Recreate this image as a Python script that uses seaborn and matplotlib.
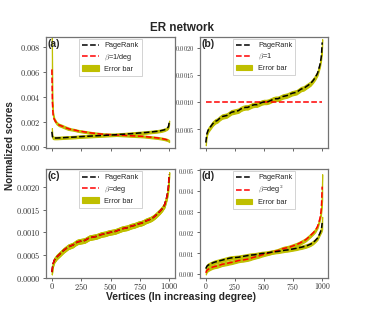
import numpy as np
import pandas as pd
import matplotlib
matplotlib.use("Agg")
import matplotlib.pyplot as plt
import seaborn as sns
from matplotlib.ticker import FuncFormatter, FixedLocator

# ---------------- data ----------------
vertices = [0, 5, 10, 20, 40, 60, 80, 100, 120, 140, 160, 180, 200, 220, 240, 260, 280, 300,
            320, 340, 360, 380, 400, 420, 440, 460, 480, 500, 520, 540, 560, 580, 600, 620,
            640, 660, 680, 700, 720, 740, 760, 780, 800, 820, 840, 860, 880, 900, 920, 940,
            960, 980, 990, 995, 1000]

# (a) PageRank and beta = 1/deg
pr_a = [0.00120, 0.00080, 0.00072, 0.00070, 0.00070, 0.00071, 0.00072, 0.00073, 0.00074, 0.00075,
        0.00076, 0.00077, 0.00078, 0.00080, 0.00081, 0.00082, 0.00083, 0.00084, 0.00085, 0.00086,
        0.00087, 0.00088, 0.00089, 0.00090, 0.00091, 0.00092, 0.00093, 0.00094, 0.00095, 0.00096,
        0.00098, 0.00099, 0.00100, 0.00101, 0.00103, 0.00104, 0.00105, 0.00107, 0.00108, 0.00110,
        0.00111, 0.00113, 0.00114, 0.00116, 0.00118, 0.00120, 0.00122, 0.00124, 0.00127, 0.00131,
        0.00136, 0.00145, 0.00155, 0.00165, 0.00195]
beta_a = [0.00620, 0.00350, 0.00260, 0.00220, 0.00190, 0.00175, 0.00168, 0.00160, 0.00152, 0.00145,
          0.00140, 0.00137, 0.00133, 0.00128, 0.00125, 0.00122, 0.00119, 0.00116, 0.00113, 0.00110,
          0.00108, 0.00106, 0.00104, 0.00102, 0.00100, 0.00099, 0.00098, 0.00097, 0.00096, 0.00095,
          0.00094, 0.00093, 0.00092, 0.00091, 0.00090, 0.00089, 0.00088, 0.00087, 0.00086, 0.00085,
          0.00084, 0.00083, 0.00081, 0.00079, 0.00077, 0.00075, 0.00073, 0.00071, 0.00068, 0.00065,
          0.00061, 0.00056, 0.00052, 0.00049, 0.00045]
err_pr_a = [0.00030, 0.00012, 0.00010, 0.00010, 0.00010, 0.00010, 0.00010, 0.00010, 0.00010, 0.00010,
            0.00010, 0.00010, 0.00010, 0.00010, 0.00010, 0.00010, 0.00010, 0.00010, 0.00010, 0.00010,
            0.00010, 0.00010, 0.00010, 0.00010, 0.00010, 0.00010, 0.00010, 0.00010, 0.00010, 0.00010,
            0.00010, 0.00010, 0.00010, 0.00010, 0.00010, 0.00010, 0.00010, 0.00010, 0.00010, 0.00010,
            0.00010, 0.00010, 0.00010, 0.00010, 0.00010, 0.00010, 0.00010, 0.00010, 0.00010, 0.00010,
            0.00010, 0.00010, 0.00012, 0.00012, 0.00015]
err_beta_a = [0.00260, 0.00040, 0.00020, 0.00012, 0.00010, 0.00010, 0.00010, 0.00010, 0.00010, 0.00010,
              0.00008, 0.00008, 0.00008, 0.00008, 0.00008, 0.00008, 0.00008, 0.00008, 0.00008, 0.00008,
              0.00008, 0.00008, 0.00008, 0.00008, 0.00008, 0.00008, 0.00008, 0.00008, 0.00008, 0.00008,
              0.00008, 0.00008, 0.00008, 0.00008, 0.00008, 0.00008, 0.00008, 0.00008, 0.00008, 0.00008,
              0.00008, 0.00008, 0.00008, 0.00008, 0.00008, 0.00008, 0.00008, 0.00008, 0.00008, 0.00008,
              0.00008, 0.00008, 0.00008, 0.00008, 0.00008]

# (b) PageRank and beta = 1
pr_b = [0.00025, 0.00035, 0.00042, 0.00048, 0.00054, 0.00060, 0.00064, 0.00066, 0.00070, 0.00073,
        0.00074, 0.00075, 0.00078, 0.00081, 0.00082, 0.00083, 0.00084, 0.00087, 0.00089, 0.00090,
        0.00090, 0.00092, 0.00094, 0.00095, 0.00095, 0.00097, 0.00099, 0.00100, 0.00100, 0.00101,
        0.00103, 0.00105, 0.00106, 0.00106, 0.00108, 0.00110, 0.00111, 0.00112, 0.00114, 0.00116,
        0.00117, 0.00118, 0.00121, 0.00124, 0.00125, 0.00128, 0.00131, 0.00134, 0.00139, 0.00145,
        0.00153, 0.00168, 0.00180, 0.00190, 0.00210]
beta_b = [0.00100] * 55
err_pr_b = [0.00005, 0.00004, 0.00004, 0.00004, 0.00004, 0.00004, 0.00004, 0.00004, 0.00004, 0.00004,
            0.00004, 0.00004, 0.00004, 0.00004, 0.00004, 0.00004, 0.00004, 0.00004, 0.00004, 0.00004,
            0.00004, 0.00004, 0.00004, 0.00004, 0.00004, 0.00004, 0.00004, 0.00004, 0.00004, 0.00004,
            0.00004, 0.00004, 0.00004, 0.00004, 0.00004, 0.00004, 0.00004, 0.00004, 0.00004, 0.00004,
            0.00004, 0.00004, 0.00004, 0.00004, 0.00004, 0.00004, 0.00004, 0.00004, 0.00004, 0.00004,
            0.00004, 0.00004, 0.00004, 0.00005, 0.00006]

# (c) PageRank and beta = deg (the two curves coincide)
pr_c = [0.00012, 0.00022, 0.00030, 0.00038, 0.00045, 0.00050, 0.00055, 0.00060, 0.00064, 0.00068,
        0.00070, 0.00072, 0.00076, 0.00079, 0.00080, 0.00081, 0.00082, 0.00085, 0.00088, 0.00089,
        0.00090, 0.00091, 0.00093, 0.00095, 0.00096, 0.00097, 0.00099, 0.00100, 0.00101, 0.00102,
        0.00104, 0.00106, 0.00108, 0.00109, 0.00110, 0.00112, 0.00114, 0.00115, 0.00117, 0.00119,
        0.00120, 0.00122, 0.00125, 0.00127, 0.00129, 0.00132, 0.00136, 0.00141, 0.00146, 0.00152,
        0.00160, 0.00178, 0.00192, 0.00205, 0.00228]
beta_c = list(pr_c)
err_c = [0.00005] * 55

# (d) PageRank and beta = deg^2
pr_d = [0.00025, 0.00032, 0.00037, 0.00042, 0.00048, 0.00053, 0.00057, 0.00060, 0.00063, 0.00066,
        0.00069, 0.00072, 0.00075, 0.00077, 0.00078, 0.00079, 0.00080, 0.00082, 0.00084, 0.00086,
        0.00088, 0.00090, 0.00091, 0.00092, 0.00094, 0.00096, 0.00098, 0.00099, 0.00100, 0.00102,
        0.00104, 0.00106, 0.00107, 0.00108, 0.00110, 0.00112, 0.00114, 0.00115, 0.00117, 0.00119,
        0.00121, 0.00123, 0.00126, 0.00128, 0.00131, 0.00134, 0.00138, 0.00143, 0.00150, 0.00160,
        0.00172, 0.00195, 0.00210, 0.00222, 0.00245]
beta_d = [0.00005, 0.00012, 0.00017, 0.00022, 0.00028, 0.00033, 0.00036, 0.00038, 0.00042, 0.00046,
          0.00048, 0.00050, 0.00053, 0.00055, 0.00058, 0.00061, 0.00064, 0.00066, 0.00067, 0.00069,
          0.00071, 0.00074, 0.00078, 0.00081, 0.00084, 0.00087, 0.00091, 0.00094, 0.00097, 0.00100,
          0.00103, 0.00106, 0.00109, 0.00112, 0.00117, 0.00121, 0.00124, 0.00126, 0.00129, 0.00133,
          0.00137, 0.00141, 0.00146, 0.00152, 0.00158, 0.00165, 0.00175, 0.00185, 0.00196, 0.00208,
          0.00228, 0.00265, 0.00300, 0.00340, 0.00420]
err_pr_d = [0.00008] * 52 + [0.00012, 0.00018, 0.00030]
err_beta_d = [0.00008] * 52 + [0.00015, 0.00030, 0.00060]

beta_labels = [r"$\beta$=1/deg", r"$\beta$=1", r"$\beta$=deg", r"$\beta$=deg$^2$"]
panel_labels = ["(a)", "(b)", "(c)", "(d)"]
x_ticks = [0, 250, 500, 750, 1000]
y_ticks = [[0.000, 0.002, 0.004, 0.006, 0.008],
           [0.0005, 0.0010, 0.0015, 0.0020],
           [0.0000, 0.0005, 0.0010, 0.0015, 0.0020],
           [0.000, 0.001, 0.002, 0.003, 0.004, 0.005]]

# ---------------- styling ----------------
sns.set_theme(style="ticks")
plt.rcParams["font.family"] = ["Liberation Sans", "DejaVu Sans"]
plt.rcParams["mathtext.fontset"] = "cm"
plt.rcParams["axes.edgecolor"] = "0.45"
plt.rcParams["axes.linewidth"] = 0.9
plt.rcParams["xtick.color"] = "0.4"
plt.rcParams["ytick.color"] = "0.4"

fig = plt.figure(figsize=(3.65, 3.13), dpi=100)
W, H = 365.0, 313.0
boxes = [(46, 37, 175, 148), (200, 37, 328, 148), (46, 169, 175, 278), (200, 169, 328, 278)]
ylims = [(-0.0001, 0.0088), (0.00015, 0.0022), (-0.00001, 0.0024), (-0.0002, 0.00505)]
ydec = [3, 4, 4, 3]
ysize = [6.0, 4.6, 6.0, 4.6]
xsize = [6.0, 6.0, 6.0, 5.6]

series = [
    (pr_a, beta_a, err_pr_a, err_beta_a),
    (pr_b, beta_b, err_pr_b, None),
    (pr_c, beta_c, err_c, err_c),
    (pr_d, beta_d, err_pr_d, err_beta_d),
]

band_color = (0.75, 0.75, 0.0)

for i, (l, t, r, b) in enumerate(boxes):
    ax = fig.add_axes([l / W, 1 - b / H, (r - l) / W, (b - t) / H])
    pr, beta, epr, ebeta = series[i]
    df = pd.DataFrame({"v": vertices, "pr": pr, "beta": beta})
    x = np.array(vertices, dtype=float)

    # error bands
    eb = ax.fill_between(x, np.array(pr) - np.array(epr), np.array(pr) + np.array(epr),
                         color=band_color, lw=0.8, zorder=1)
    if ebeta is not None:
        ax.fill_between(x, np.array(beta) - np.array(ebeta), np.array(beta) + np.array(ebeta),
                        color=band_color, lw=0.8, zorder=1)

    if i == 2:
        sns.lineplot(data=df, x="v", y="pr", ax=ax, color="black", linestyle="--", lw=1.1, zorder=3)
        sns.lineplot(data=df, x="v", y="beta", ax=ax, color="red", linestyle="--", lw=1.1, zorder=4)
    else:
        sns.lineplot(data=df, x="v", y="beta", ax=ax, color="red", linestyle="--", lw=1.1, zorder=3)
        sns.lineplot(data=df, x="v", y="pr", ax=ax, color="black", linestyle="--", lw=1.1, zorder=4)

    lines = ax.get_lines()
    h_pr = [ln for ln in lines if ln.get_color() in ("black", "k")][0]
    h_beta = [ln for ln in lines if ln.get_color() == "red"][0]
    leg = ax.legend([h_pr, h_beta, eb], ["PageRank", beta_labels[i], "Error bar"],
                    loc="upper center", fontsize=5.3, frameon=True, handlelength=2.2,
                    borderpad=0.4, labelspacing=0.35, handletextpad=0.8,
                    borderaxespad=0.3, fancybox=False)
    leg.get_frame().set_edgecolor("0.75")
    leg.get_frame().set_linewidth(0.6)

    ax.set_xlim(-50, 1050)
    ax.set_ylim(*ylims[i])
    ax.xaxis.set_major_locator(FixedLocator(x_ticks))
    ax.yaxis.set_major_locator(FixedLocator(y_ticks[i]))
    d = ydec[i]
    ax.yaxis.set_major_formatter(FuncFormatter(lambda v, p, d=d: f"${v:.{d}f}$"))
    ax.xaxis.set_major_formatter(FuncFormatter(lambda v, p: f"${int(round(v))}$"))
    ax.tick_params(axis="y", labelsize=ysize[i], length=2.5, width=0.7, pad=1.5, labelcolor="0.2")
    ax.tick_params(axis="x", labelsize=xsize[i], length=2.0, width=0.7, pad=0.4, labelcolor="0.2")
    if i < 2:
        ax.set_xticklabels([])
    ax.set_xlabel("")
    ax.set_ylabel("")
    for s in ax.spines.values():
        s.set_visible(True)
    ax.text(0.01, 0.985, panel_labels[i], transform=ax.transAxes, ha="left", va="top",
            fontsize=7.5, fontweight="bold", zorder=10)

fig.text(182 / W, 1 - 28 / H, "ER network", ha="center", va="center", fontsize=8.4, fontweight="bold")
fig.text(181 / W, 1 - 297.5 / H, "Vertices (In increasing degree)", ha="center", va="center",
         fontsize=7.4, fontweight="bold")
fig.text(10 / W, 1 - 146 / H, "Normalized scores", ha="center", va="center", rotation=90,
         fontsize=7.2, fontweight="bold")

fig.savefig("out.png", dpi=100)
